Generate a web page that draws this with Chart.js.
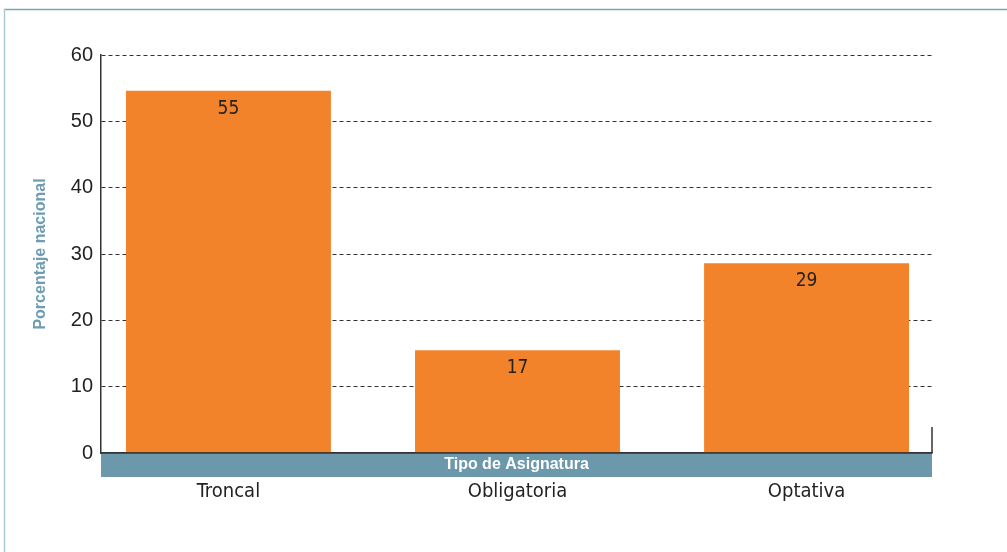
<!DOCTYPE html>
<html>
<head>
<meta charset="utf-8">
<script src="https://cdn.jsdelivr.net/npm/chart.js@4.4.1/dist/chart.umd.min.js"></script>
<style>
  html, body { margin: 0; padding: 0; background: #fff; }
  #wrap { width: 1007px; height: 552px; position: relative; }
</style>
</head>
<body>
<div id="wrap"><canvas id="chart" width="1007" height="552"></canvas></div>
<script>
const categories = ['Troncal', 'Obligatoria', 'Optativa']
const values = [54.6, 15.5, 28.6]
const valueLabels = ['55', '17', '29']
const yTitle = 'Porcentaje nacional'
const xTitle = 'Tipo de Asignatura'

const barColor = '#f3832b'
const bandColor = '#6b98ab'
const axisColor = '#333333'
const textFont = "'Liberation Sans Narrow', 'DejaVu Sans Condensed', sans-serif"
const numFont = "'Liberation Sans', Arial, sans-serif"

// frame, band under the axis, value labels
const extras = {
  id: 'extras',
  beforeDraw(chart) {
    const ctx = chart.ctx
    ctx.save()
    ctx.fillStyle = '#ffffff'
    ctx.fillRect(0, 0, chart.width, chart.height)
    ctx.lineWidth = 1.5
    ctx.strokeStyle = '#7fa3ab'
    ctx.beginPath()
    ctx.moveTo(4, 9.5)
    ctx.lineTo(chart.width, 9.5)
    ctx.stroke()
    ctx.strokeStyle = '#a9c9d8'
    ctx.beginPath()
    ctx.moveTo(4.5, 9)
    ctx.lineTo(4.5, chart.height)
    ctx.stroke()
    ctx.restore()
  },
  afterDatasetsDraw(chart) {
    const ctx = chart.ctx
    const area = chart.chartArea
    ctx.save()
    ctx.fillStyle = '#222'
    ctx.font = '19px ' + textFont
    ctx.textAlign = 'center'
    ctx.textBaseline = 'middle'
    chart.getDatasetMeta(0).data.forEach((bar, i) => {
      ctx.fillText(valueLabels[i], bar.x, bar.y + 18)
    })
    // band
    ctx.fillStyle = bandColor
    ctx.fillRect(area.left, area.bottom, area.right - area.left, 24)
    ctx.fillStyle = '#ffffff'
    ctx.font = 'bold 16px ' + numFont
    ctx.fillText(xTitle, (area.left + area.right) / 2, area.bottom + 12)
    // right end tick
    ctx.strokeStyle = axisColor
    ctx.lineWidth = 1.5
    ctx.beginPath()
    ctx.moveTo(area.right, area.bottom - 26)
    ctx.lineTo(area.right, area.bottom)
    ctx.stroke()
    // axis line on top of band edge
    ctx.beginPath()
    ctx.moveTo(area.left, area.bottom)
    ctx.lineTo(area.right, area.bottom)
    ctx.stroke()
    ctx.restore()
  }
}

const chart = new Chart(document.getElementById('chart'), {
  type: 'bar',
  data: {
    datasets: [{
      data: values.map((v, i) => ({ x: i, y: v })),
      backgroundColor: barColor,
      borderWidth: 0,
      barPercentage: 0.709,
      categoryPercentage: 1
    }]
  },
  options: {
    responsive: false,
    animation: false,
    layout: { padding: { top: 55, right: 75, bottom: 0, left: 0 } },
    plugins: {
      legend: { display: false },
      tooltip: { enabled: false }
    },
    scales: {
      x: {
        type: 'linear',
        min: -0.441,
        max: 2.434,
        offset: false,
        grid: { display: false, drawTicks: false },
        border: { display: true, color: axisColor, width: 1.5 },
        afterBuildTicks: (scale) => {
          scale.ticks = categories.map((c, i) => ({ value: i }))
        },
        afterFit: (scale) => { scale.height = 99 },
        ticks: {
          autoSkip: false,
          maxRotation: 0,
          padding: 27,
          color: '#222',
          font: { family: textFont, size: 20 },
          callback: (v) => categories[v]
        }
      },
      y: {
        min: 0,
        max: 60,
        afterFit: (scale) => { scale.width = 101 },
        ticks: {
          stepSize: 10,
          padding: 8,
          color: '#222',
          font: { family: numFont, size: 20 }
        },
        grid: {
          drawTicks: false,
          color: axisColor,
          lineWidth: 1
        },
        border: { display: true, color: axisColor, width: 1.5, dash: [4, 3] },
        title: {
          display: true,
          text: yTitle,
          color: '#6e9db3',
          font: { family: numFont, size: 16, weight: 'bold' },
          padding: { top: 31, bottom: 0 }
        }
      }
    }
  },
  plugins: [extras]
})
</script>
</body>
</html>
